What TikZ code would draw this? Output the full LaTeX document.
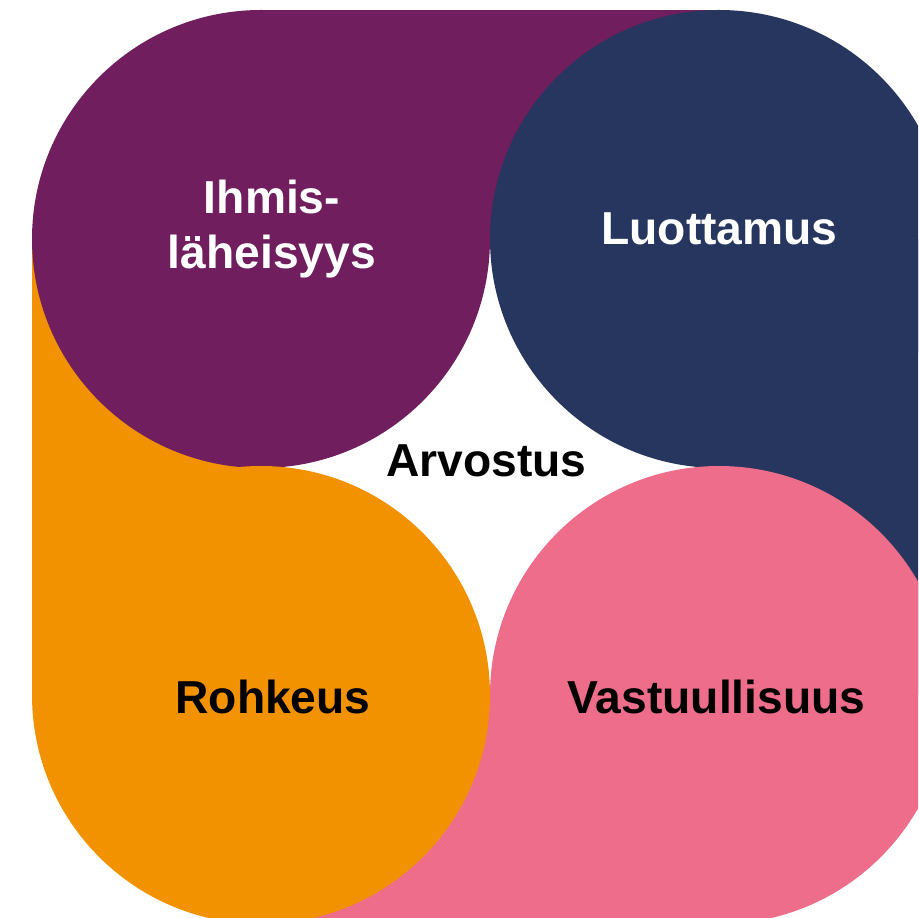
\documentclass[tikz,border=0pt]{standalone}
\usepackage{fontspec}
\setmainfont{Liberation Sans}
\definecolor{purp}{RGB}{112,30,94}
\definecolor{navy}{RGB}{39,54,94}
\definecolor{orng}{RGB}{242,146,0}
\definecolor{rose}{RGB}{238,109,138}
\begin{document}
\begin{tikzpicture}[lbl/.style={font=\bfseries\fontsize{13.15}{15.6}\selectfont, inner sep=0pt, align=center}]
\useasboundingbox (0,0) rectangle (9.18,9.18);
\clip (0,0) rectangle (9.18,9.18);
% tails
\fill[purp] (2.61,6.79) rectangle (7.19,9.08);
\fill[navy] (7.19,2.23) rectangle (9.48,6.79);
\fill[rose] (2.61,-0.06) rectangle (7.19,2.23);
\fill[orng] (0.32,2.23) rectangle (2.61,6.79);
% heads
\fill[purp] (2.61,6.79) circle[radius=2.29];
\fill[navy] (7.19,6.79) circle[radius=2.29];
\fill[orng] (2.61,2.23) circle[radius=2.29];
\fill[rose] (7.19,2.23) circle[radius=2.29];
% labels
\node[lbl, white] (ihmis) at (2.72,6.89) {Ihmis-\\läheisyys};
\node[lbl, white, anchor=base] (luottamus) at (7.195,6.73) {Luottamus};
\node[lbl, anchor=base] (arvostus) at (4.865,4.41) {Arvostus};
\node[lbl, anchor=base] (rohkeus) at (2.73,2.04) {Rohkeus};
\node[lbl, anchor=base] (vastuu) at (7.165,2.04) {Vastuullisuus};
\end{tikzpicture}
\end{document}
